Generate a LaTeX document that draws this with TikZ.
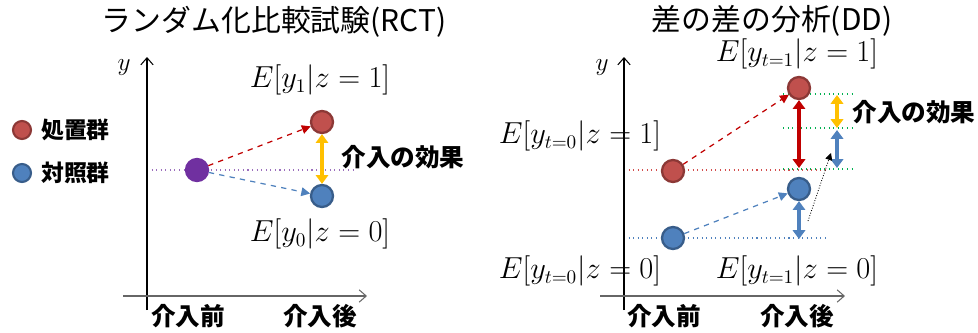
\documentclass[tikz,border=0pt]{standalone}
\usepackage{fontspec}
\usetikzlibrary{arrows.meta}
\newfontfamily\jp{Noto Sans CJK JP}
\definecolor{redfill}{HTML}{C0504D}
\definecolor{reddraw}{HTML}{8C3836}
\definecolor{bluefill}{HTML}{4F81BD}
\definecolor{bluedraw}{HTML}{385D8A}
\definecolor{purp}{HTML}{7030A0}
\definecolor{orng}{HTML}{FFC000}
\definecolor{dred}{HTML}{C00000}
\definecolor{arrblue}{HTML}{4F81BD}
\definecolor{grn}{HTML}{00B050}
\begin{document}
\begin{tikzpicture}[x=0.02cm,y=-0.02cm,
  dot/.style={circle,minimum size=0.44cm,inner sep=0pt,line width=1.3pt},
  redc/.style={dot,fill=redfill,draw=reddraw},
  bluec/.style={dot,fill=bluefill,draw=bluedraw},
  purc/.style={dot,fill=purp,draw=purp},
  legr/.style={circle,minimum size=0.36cm,inner sep=0pt,line width=1.2pt,fill=redfill,draw=reddraw},
  legb/.style={circle,minimum size=0.36cm,inner sep=0pt,line width=1.2pt,fill=bluefill,draw=bluedraw},
  yaxis/.style={line width=0.6pt,-{Straight Barb[length=4pt,width=7pt]}},
  xaxis/.style={line width=1.2pt,draw=black!60,-{Straight Barb[length=4pt,width=7pt,line width=0.6pt]}},
  title/.style={font=\jp\fontsize{17}{20}\selectfont,inner sep=0.5pt},
  jlab/.style={font=\jp\bfseries\fontsize{14}{17}\selectfont},
  leglab/.style={font=\jp\bfseries\fontsize{13}{16}\selectfont,anchor=west},
  mlab/.style={font=\fontsize{16}{19}\selectfont,inner sep=0.5pt},
  ylab/.style={font=\fontsize{15}{18}\selectfont},
  dasharr/.style={dashed,line width=0.7pt,-{Triangle[length=5pt,width=5pt]}},
  dbl/.style={line width=2.2pt,{Triangle[length=5pt,width=7pt]}-{Triangle[length=5pt,width=7pt]}},
  dline/.style={dotted,line width=0.6pt}
]
\useasboundingbox (0,0) rectangle (978,332);
% ---------------- left panel ----------------
\node[title] (t1) at (274,22) {ランダム化比較試験(RCT)};
\node[ylab] (yl1) at (124,68) {$y$};
\node[legr] (lr) at (22,130) {};
\node[leglab] (lrt) at (35,130) {処置群};
\node[legb] (lb) at (22,173) {};
\node[leglab] (lbt) at (35,173) {対照群};
\node[mlab] (m1) at (320,80) {$E[y_1|z=1]$};
\node[mlab] (m0) at (320,234) {$E[y_0|z=0]$};
\node[jlab] (eff1) at (403,157) {介入の効果};
\node[jlab] (pre1) at (188,316) {介入前};
\node[jlab] (post1) at (320,316) {介入後};
\coordinate (la) at (147,170);
\coordinate (lb2) at (353,170);
\draw[dline,purp!70] (la) -- (lb2);
\node[purc] (p) at (197,170) {};
\node[redc] (r1) at (322,122) {};
\node[bluec] (b1) at (322,196) {};
\draw[dasharr,dred] (p) -- (r1);
\draw[dasharr,arrblue] (p) -- (b1);
\draw[dbl,orng] (r1) -- (b1);
\coordinate (y1s) at (147,310);
\coordinate (y1e) at (147,57);
\draw[yaxis] (y1s) -- (y1e);
\coordinate (x1s) at (123,296);
\coordinate (x1e) at (367,296);
\draw[xaxis] (x1s) -- (x1e);
% ---------------- right panel ----------------
\node[title] (t2) at (772,21) {差の差の分析(DD)};
\node[ylab] (yl2) at (602,68) {$y$};
\node[mlab] (m11) at (797,54) {$E[y_{t=1}|z=1]$};
\node[mlab] (m01) at (580,136) {$E[y_{t=0}|z=1]$};
\node[mlab] (m00) at (580,271) {$E[y_{t=0}|z=0]$};
\node[mlab] (m10) at (797,271) {$E[y_{t=1}|z=0]$};
\node[jlab] (eff2) at (914,112) {介入の効果};
\node[jlab] (pre2) at (664,316) {介入前};
\node[jlab] (post2) at (797,316) {介入後};
% guide lines
\coordinate (rl0) at (624,170); \coordinate (rl1) at (828,170);
\coordinate (bl0) at (624,238); \coordinate (bl1) at (828,238);
\coordinate (g1a) at (783,94);  \coordinate (g1b) at (855,94);
\coordinate (g2a) at (783,128); \coordinate (g2b) at (854,128);
\coordinate (g3a) at (783,169); \coordinate (g3b) at (855,169);
\draw[dline,dred!70] (rl0) -- (rl1);
\draw[dline,arrblue] (bl0) -- (bl1);
\draw[dline,grn] (g1a) -- (g1b);
\draw[dline,grn] (g2a) -- (g2b);
\draw[dline,grn] (g3a) -- (g3b);
\node[redc] (r0) at (673,171) {};
\node[bluec] (b0) at (673,238) {};
\node[redc] (r2) at (799,88) {};
\node[bluec] (b2) at (799,189) {};
\draw[dasharr,dred] (r0) -- (r2);
\draw[dasharr,arrblue] (b0) -- (b2);
\coordinate (ra1) at (799,168);
\draw[dbl,dred] (r2) -- (ra1);
\coordinate (ba0) at (799,239);
\draw[dbl,arrblue] (b2) -- (ba0);
\coordinate (oa0) at (837,95); \coordinate (oa1) at (837,128);
\draw[dbl,orng] (oa0) -- (oa1);
\coordinate (bb0) at (837,130); \coordinate (bb1) at (837,168);
\draw[dbl,arrblue] (bb0) -- (bb1);
\coordinate (k0) at (808,221); \coordinate (k1) at (831,153);
\draw[densely dotted,line width=0.5pt,-{Triangle[length=4pt,width=4pt]}] (k0) -- (k1);
\coordinate (y2s) at (624,310);
\coordinate (y2e) at (624,57);
\draw[yaxis] (y2s) -- (y2e);
\coordinate (x2s) at (600,296);
\coordinate (x2e) at (845,296);
\draw[xaxis] (x2s) -- (x2e);
\end{tikzpicture}
\end{document}
